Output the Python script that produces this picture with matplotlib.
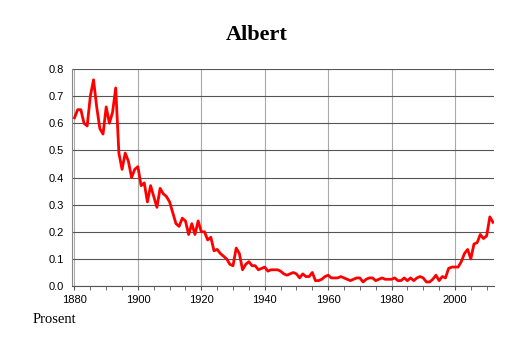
import numpy as np
import matplotlib.pyplot as plt
from matplotlib.ticker import MultipleLocator

years = np.arange(1880, 2013)

share = [
    0.62, 0.65, 0.65, 0.60, 0.59, 0.70, 0.76, 0.66, 0.58, 0.56,  # 1880s
    0.66, 0.60, 0.64, 0.73, 0.49, 0.43, 0.49, 0.46, 0.40, 0.43,  # 1890s
    0.44, 0.37, 0.38, 0.31, 0.37, 0.33, 0.29, 0.36, 0.34, 0.33,  # 1900s
    0.31, 0.27, 0.23, 0.22, 0.25, 0.24, 0.19, 0.23, 0.19, 0.24,  # 1910s
    0.20, 0.20, 0.17, 0.18, 0.13, 0.135, 0.12, 0.11, 0.10, 0.08,  # 1920s
    0.075, 0.14, 0.12, 0.06, 0.08, 0.09, 0.075, 0.075, 0.06, 0.065,  # 1930s
    0.07, 0.055, 0.06, 0.06, 0.06, 0.055, 0.045, 0.04, 0.045, 0.05,  # 1940s
    0.045, 0.03, 0.045, 0.035, 0.035, 0.05, 0.02, 0.02, 0.025, 0.035,  # 1950s
    0.04, 0.03, 0.03, 0.03, 0.035, 0.03, 0.025, 0.02, 0.025, 0.03,  # 1960s
    0.03, 0.015, 0.025, 0.03, 0.03, 0.02, 0.025, 0.03, 0.025, 0.025,  # 1970s
    0.025, 0.03, 0.02, 0.02, 0.03, 0.02, 0.03, 0.02, 0.03, 0.035,  # 1980s
    0.03, 0.015, 0.015, 0.025, 0.04, 0.02, 0.035, 0.03, 0.065, 0.07,  # 1990s
    0.07, 0.07, 0.09, 0.12, 0.135, 0.10, 0.155, 0.16, 0.19, 0.175,  # 2000s
    0.185, 0.255, 0.235,  # 2010s
]

fig = plt.figure(figsize=(5.14, 3.43), dpi=100)
ax = fig.add_axes([0.140, 0.166, 0.821, 0.633])

ax.plot(years, share, color="red", linewidth=2.0, zorder=3)

ax.set_xlim(1879.2, 2012.3)
ax.set_ylim(0, 0.8)
ax.xaxis.set_major_locator(MultipleLocator(20))
ax.xaxis.set_minor_locator(MultipleLocator(5))
ax.yaxis.set_major_locator(MultipleLocator(0.1))
ax.yaxis.set_major_formatter(plt.FormatStrFormatter("%.1f"))

ax.grid(True, axis="y", color="#555555", linewidth=0.8)
ax.grid(True, axis="x", color="#aaaaaa", linewidth=0.8)
ax.set_axisbelow(True)

for side in ["top", "right"]:
    ax.spines[side].set_visible(False)
ax.spines["left"].set_color("#888888")
ax.spines["bottom"].set_color("#555555")

ax.tick_params(axis="both", which="major", labelsize=8, length=3, color="#555555",
               labelfontfamily="Liberation Sans")
ax.tick_params(axis="x", which="minor", length=3, color="#555555")
ax.tick_params(axis="y", which="major", length=0, pad=6)

fig.text(0.5, 0.898, "Albert", ha="center", va="center", fontsize=16,
         fontweight="bold", family="Liberation Serif")
fig.text(0.064, 0.068, "Prosent", ha="left", va="center", fontsize=10.5,
         family="Liberation Serif")

fig.savefig("out.png", dpi=100)
